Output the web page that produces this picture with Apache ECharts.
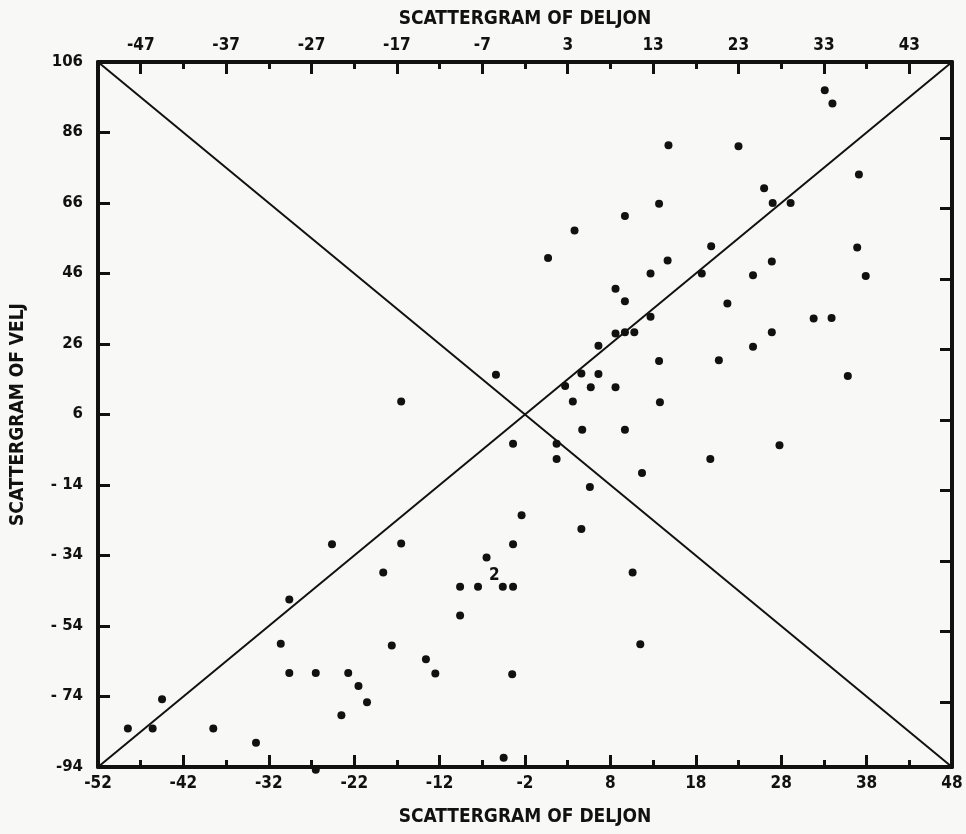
<!DOCTYPE html>
<html><head><meta charset="utf-8">
<script src="https://cdn.jsdelivr.net/npm/echarts@6/dist/echarts.min.js"></script>
<style>html,body{margin:0;padding:0;background:#f8f8f6}#c{width:966px;height:834px}</style>
</head><body><div id="c"></div>
<script>
// Axis ranges
const xRange = [-52, 48];
const yRange = [-94, 106];
// Tick labels
const bottomTicks = [-52, -42, -32, -22, -12, -2, 8, 18, 28, 38, 48];
const topTicks = [-47, -37, -27, -17, -7, 3, 13, 23, 33, 43];
const yTicks = [106, 86, 66, 46, 26, 6, -14, -34, -54, -74, -94];
const yTickLabels = ['106', '86', '66', '46', '26', '6', '- 14', '- 34', '- 54', '- 74', '-94'];
const rightTicks = [84.5, 64.5, 44.5, 24.5, 4.5, -15.5, -35.5, -55.5, -75.5];
// Data: DELJON (x) vs VELJ (y)
const delJon = [33.1, 34.0, 14.8, 23.0, 37.1, 26.0, 27.0, 29.1, 13.7, 9.7,
  3.8, 0.7, 19.8, 36.9, 14.7, 26.9, 12.7, 18.7, 24.7, 37.9,
  8.6, 9.7, 21.7, 12.7, 31.8, 33.9, 8.6, 9.7, 10.8, 26.9,
  6.6, 24.7, 13.7, 20.7, 4.6, 6.6, 35.8, 2.7, 5.7, 8.6,
  3.6, 13.8, 4.7, 9.7, -3.4, 1.7, 27.8, 1.7, 19.7, 11.7,
  5.6, -2.4, 4.6, -3.4, 10.6, -4.6, -3.4, 11.5, -3.5, -4.5,
  -16.5, -5.4, -24.6, -16.5, -6.5, -18.6, -9.6, -7.5, -9.6, -29.6,
  -30.6, -17.6, -13.6, -12.5, -29.6, -26.5, -22.7, -21.5, -20.5, -23.5,
  -44.5, -48.5, -45.6, -38.5, -33.5, -26.5];
const velJ = [98.0, 94.2, 82.4, 82.1, 74.1, 70.2, 66.0, 66.0, 65.8, 62.3,
  58.2, 50.4, 53.7, 53.4, 49.7, 49.4, 46.0, 46.0, 45.5, 45.3,
  41.7, 38.1, 37.5, 33.7, 33.2, 33.4, 29.0, 29.3, 29.3, 29.3,
  25.5, 25.2, 21.2, 21.4, 17.6, 17.5, 16.9, 14.1, 13.7, 13.7,
  9.7, 9.5, 1.7, 1.7, -2.3, -2.3, -2.7, -6.6, -6.6, -10.6,
  -14.6, -22.6, -26.5, -30.8, -38.8, -42.9, -42.9, -59.2, -67.7, -91.4,
  9.7, 17.3, -30.8, -30.6, -34.6, -38.8, -42.9, -42.9, -51.0, -46.5,
  -59.0, -59.5, -63.4, -67.5, -67.3, -67.3, -67.3, -71.0, -75.6, -79.3,
  -74.8, -83.1, -83.1, -83.1, -87.1, -94.8];
// Coincident observations shown as a count
const multX = [-5.6];
const multY = [-39.6];
const multCount = [2];

const INK = '#111111';
const FONT = "'Liberation Sans Narrow','DejaVu Sans Condensed','DejaVu Sans',sans-serif";
const FONT_Y = "'DejaVu Sans',sans-serif";

const chart = echarts.init(document.getElementById('c'), null, {renderer: 'canvas'});
const scatterData = delJon.map((x, i) => [x, velJ[i]]);
const multData = multX.map((x, i) => [x, multY[i], multCount[i]]);

const lineStyleAxis = {color: INK, width: 4};
const tickStyle = {color: INK, width: 3};
const baseX = {
  type: 'value', min: xRange[0], max: xRange[1], splitLine: {show: false},
  axisLine: {show: true, onZero: false, lineStyle: lineStyleAxis}
};

chart.setOption({
  backgroundColor: '#f8f8f6',
  animation: false,
  grid: {left: 98, top: 62, width: 854, height: 705, containLabel: false},
  xAxis: [
    Object.assign({}, baseX, {
      position: 'bottom', interval: 10,
      axisTick: {show: true, inside: true, length: 12, lineStyle: tickStyle},
      minorTick: {show: true, splitNumber: 2, length: 7, lineStyle: tickStyle},
      axisLabel: {show: true, margin: 8, color: INK, fontFamily: FONT, fontWeight: 'bold', fontSize: 17,
        showMinLabel: true, showMaxLabel: true, formatter: v => bottomTicks.includes(v) ? String(v) : ''},
      name: 'SCATTERGRAM OF DELJON', nameLocation: 'middle', nameGap: 41,
      nameTextStyle: {color: INK, fontFamily: FONT, fontWeight: 'bold', fontSize: 19}
    }),
    Object.assign({}, baseX, {
      position: 'top', interval: 5,
      axisTick: {show: true, inside: true, length: 12, customValues: topTicks, lineStyle: tickStyle},
      axisLabel: {show: true, margin: 8, color: INK, fontFamily: FONT, fontWeight: 'bold', fontSize: 17,
        customValues: topTicks, formatter: v => String(v)},
      name: 'SCATTERGRAM OF DELJON', nameLocation: 'middle', nameGap: 33,
      nameTextStyle: {color: INK, fontFamily: FONT, fontWeight: 'bold', fontSize: 19}
    }),
    Object.assign({}, baseX, {
      position: 'top', interval: 10,
      axisLine: {show: false, onZero: false},
      axisTick: {show: true, inside: true, length: 7, lineStyle: tickStyle},
      axisLabel: {show: false}
    })
  ],
  yAxis: [
    {
      type: 'value', position: 'left', min: yRange[0], max: yRange[1], interval: 20,
      splitLine: {show: false},
      axisLine: {show: true, onZero: false, lineStyle: lineStyleAxis},
      axisTick: {show: true, inside: true, length: 12, lineStyle: tickStyle},
      axisLabel: {show: true, margin: 15, color: INK, fontFamily: FONT_Y, fontWeight: 'bold', fontSize: 15,
        showMinLabel: true, showMaxLabel: true,
        formatter: v => { const i = yTicks.indexOf(v); return i >= 0 ? yTickLabels[i] : ''; }},
      name: 'SCATTERGRAM OF VELJ', nameLocation: 'middle', nameGap: 70, nameRotate: 90,
      nameTextStyle: {color: INK, fontFamily: FONT, fontWeight: 'bold', fontSize: 19}
    },
    {
      type: 'value', position: 'right', min: yRange[0], max: yRange[1], interval: 20,
      splitLine: {show: false},
      axisLine: {show: true, onZero: false, lineStyle: lineStyleAxis},
      axisTick: {show: true, inside: true, length: 12, customValues: rightTicks, lineStyle: tickStyle},
      axisLabel: {show: false}
    }
  ],
  series: [
    {
      type: 'line', xAxisIndex: 0, yAxisIndex: 0, symbol: 'none', silent: true,
      lineStyle: {color: INK, width: 2},
      data: [[xRange[0], yRange[1]], [xRange[1], yRange[0]]]
    },
    {
      type: 'line', xAxisIndex: 0, yAxisIndex: 0, symbol: 'none', silent: true,
      lineStyle: {color: INK, width: 2},
      data: [[xRange[0], yRange[0]], [xRange[1], yRange[1]]]
    },
    {
      type: 'scatter', xAxisIndex: 0, yAxisIndex: 0, clip: false,
      symbol: 'circle', symbolSize: 8,
      itemStyle: {color: INK, opacity: 1},
      data: scatterData, z: 5
    },
    {
      type: 'scatter', xAxisIndex: 0, yAxisIndex: 0, clip: false,
      symbolSize: 1, itemStyle: {color: 'rgba(0,0,0,0)', opacity: 1},
      label: {show: true, position: 'inside', formatter: p => String(p.value[2]),
        color: INK, fontFamily: FONT, fontWeight: 'bold', fontSize: 17},
      data: multData, z: 6
    }
  ]
});
</script>
</body></html>
